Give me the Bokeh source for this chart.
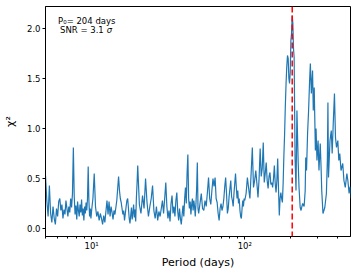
from bokeh.plotting import figure
from bokeh.models import FixedTicker, NumeralTickFormatter, Span, Range1d
from bokeh.core.properties import value
from bokeh.embed import file_html
from bokeh.resources import INLINE

# ---- data (period in days, chi^2) ----
periods_a = [5.0, 5.1, 5.2, 5.3, 5.4, 5.5, 5.6, 5.7, 5.8, 5.9,
             6.0, 6.1, 6.2, 6.3, 6.4, 6.5, 6.6, 6.7, 6.8, 6.9,
             7.0, 7.1, 7.2, 7.3, 7.4, 7.5, 7.6, 7.7, 7.8, 7.9,
             8.0, 8.1, 8.2, 8.3, 8.4, 8.5, 8.6, 8.7, 8.8, 8.9,
             9.0, 9.1, 9.2, 9.3, 9.4, 9.5, 9.6, 9.7, 9.8, 9.9]
values_a = [0.53, 0.28, 0.12, 0.43, 0.15, 0.06, 0.22, 0.10, 0.04, 0.20,
            0.12, 0.27, 0.30, 0.18, 0.24, 0.10, 0.19, 0.14, 0.28, 0.20,
            0.12, 0.22, 0.16, 0.30, 0.21, 0.35, 0.81, 0.32, 0.14, 0.23,
            0.09, 0.27, 0.18, 0.12, 0.24, 0.16, 0.29, 0.13, 0.20, 0.08,
            0.22, 0.15, 0.26, 0.18, 0.30, 0.62, 0.28, 0.12, 0.20, 0.10]

periods_b = [10.0, 10.2, 10.4, 10.6, 10.8, 11.0, 11.2, 11.4, 11.6, 11.8,
             12.0, 12.2, 12.4, 12.6, 12.8, 13.0, 13.2, 13.4, 13.6, 13.8,
             14.0, 14.2, 14.4, 14.6, 14.8, 15.0, 15.2, 15.4, 15.6, 15.8,
             16.0, 16.2, 16.4, 16.6, 16.8, 17.0, 17.2, 17.4, 17.6, 17.8,
             18.0, 18.2, 18.4, 18.6, 18.8, 19.0, 19.2, 19.4, 19.6, 19.8]
values_b = [0.18, 0.30, 0.55, 0.22, 0.12, 0.17, 0.08, 0.15, 0.10, 0.04,
            0.13, 0.06, 0.17, 0.28, 0.14, 0.27, 0.12, 0.22, 0.16, 0.09,
            0.18, 0.14, 0.21, 0.28, 0.40, 0.52, 0.38, 0.30, 0.26, 0.20,
            0.14, 0.18, 0.08, 0.15, 0.22, 0.28, 0.30, 0.20, 0.10, 0.05,
            0.13, 0.21, 0.09, 0.16, 0.24, 0.11, 0.19, 0.07, 0.30, 0.45]

periods_c = [20.0, 20.5, 21.0, 21.5, 22.0, 22.5, 23.0, 23.5, 24.0, 24.5,
             25.0, 25.5, 26.0, 26.5, 27.0, 27.5, 28.0, 28.5, 29.0, 29.5,
             30.0, 30.5, 31.0, 31.5, 32.0, 32.5, 33.0, 33.5, 34.0, 34.5,
             35.0, 35.5, 36.0, 36.5, 37.0, 37.5, 38.0, 38.5, 39.0, 39.5,
             40.0, 40.5, 41.0, 41.5, 42.0, 42.5, 43.0, 43.5, 44.0, 44.5,
             45.0, 45.5, 46.0, 46.5, 47.0, 47.5, 48.0, 48.5, 49.0, 49.5]
values_c = [0.63, 0.24, 0.15, 0.33, 0.20, 0.50, 0.26, 0.12, 0.22, 0.30,
            0.43, 0.18, 0.10, 0.22, 0.08, 0.17, 0.12, 0.20, 0.28, 0.15,
            0.30, 0.46, 0.22, 0.10, 0.18, 0.07, 0.25, 0.33, 0.15, 0.22,
            0.12, 0.28, 0.36, 0.17, 0.08, 0.20, 0.10, 0.04, 0.14, 0.23,
            0.12, 0.30, 0.41, 0.25, 0.55, 0.74, 0.30, 0.20, 0.27, 0.14,
            0.24, 0.30, 0.18, 0.28, 0.22, 0.12, 0.25, 0.40, 0.66, 0.20]

periods_d = [50, 51, 52, 53, 54, 55, 56, 57, 58, 59,
             60, 61, 62, 63, 64, 65, 66, 67, 68, 69,
             70, 71, 72, 73, 74, 75, 76, 77, 78, 79,
             80, 81, 82, 83, 84, 85, 86, 87, 88, 89,
             90, 91, 92, 93, 94, 95, 96, 97, 98, 99]
values_d = [0.15, 0.25, 0.35, 0.20, 0.18, 0.28, 0.22, 0.36, 0.51, 0.30,
            0.24, 0.38, 0.50, 0.42, 0.51, 0.30, 0.26, 0.15, 0.08, 0.20,
            0.25, 0.18, 0.22, 0.30, 0.42, 0.51, 0.35, 0.15, 0.20, 0.32,
            0.40, 0.48, 0.32, 0.28, 0.22, 0.35, 0.45, 0.55, 0.42, 0.30,
            0.38, 0.25, 0.30, 0.18, 0.12, 0.10, 0.20, 0.28, 0.22, 0.30]

periods_e = [100, 102, 104, 106, 108, 110, 112, 114, 116, 118,
             120, 122, 124, 126, 128, 130, 132, 134, 136, 138,
             140, 142, 144, 146, 148, 150, 152, 154, 156, 158,
             160, 162, 164, 166, 168, 170, 172, 174, 176, 178,
             180, 182, 184, 186, 188, 190, 192, 194, 196, 198]
values_e = [0.28, 0.35, 0.51, 0.40, 0.30, 0.55, 0.81, 0.41, 0.48, 0.58,
            0.45, 0.31, 0.50, 0.80, 0.52, 0.60, 0.86, 0.46, 0.55, 0.66,
            0.48, 0.40, 0.52, 0.56, 0.44, 0.46, 0.41, 0.50, 0.63, 0.45,
            0.36, 0.48, 0.70, 0.40, 0.13, 0.30, 0.36, 0.30, 0.26, 0.45,
            0.73, 0.95, 1.23, 1.45, 1.62, 1.73, 1.70, 1.50, 1.45, 1.56]

periods_f = [200, 202, 204, 206, 208, 210, 213, 216, 219, 223, 226,
             230, 233, 236, 239, 244, 248, 250, 253, 257, 261,
             265, 268, 272, 277, 280, 284, 289, 292, 296, 301,
             305, 311, 315, 318, 324, 333, 341, 346, 349, 352,
             360, 367, 372, 378, 385, 391, 397, 405, 411, 417,
             425, 436, 444, 453, 464, 471, 480, 487, 495]
values_f = [1.88, 1.95, 2.13, 2.05, 1.80, 1.71, 0.70, 0.38, 1.18, 0.68, 0.41,
            0.21, 0.18, 0.22, 0.25, 0.22, 0.38, 0.71, 0.58, 0.95, 1.18,
            1.48, 1.65, 1.35, 1.58, 1.18, 1.41, 0.78, 1.00, 0.68, 0.88,
            0.58, 0.85, 0.60, 0.38, 0.15, 0.21, 0.35, 0.68, 1.26, 0.51,
            0.88, 0.98, 0.75, 1.05, 1.35, 0.91, 0.81, 0.88, 0.68, 0.75,
            0.58, 0.65, 0.48, 0.41, 0.55, 0.48, 0.35, 0.42, 0.30]

best_period = 204
line1 = "P\u2080= 204 days"
line2 = "SNR = 3.1"
line2_sym = "\u03c3"

x_major = [10, 100]
x_major_labels = {10: "10\u00b9", 100: "10\u00b2"}
x_minor = [5, 6, 7, 8, 9, 20, 30, 40, 50, 60, 70, 80, 90, 200, 300, 400]
y_ticks = [0.0, 0.5, 1.0, 1.5, 2.0]

period = periods_a + periods_b + periods_c + periods_d + periods_e + periods_f
chi2 = values_a + values_b + values_c + values_d + values_e + values_f

FONT = "DejaVu Sans"

p = figure(width=357, height=272, x_axis_type="log",
           x_range=Range1d(5.0, 490), y_range=Range1d(-0.08, 2.22),
           output_backend="svg", toolbar_location=None, title=None,
           min_border_left=41, min_border_right=7, min_border_top=6,
           min_border_bottom=36, background_fill_color="white",
           border_fill_color="white")

p.outline_line_color = "black"
p.outline_line_width = 1
p.xgrid.visible = False
p.ygrid.visible = False

p.line(period, chi2, line_color="#1f77b4", line_width=1.2)

p.add_layout(Span(location=best_period, dimension="height", line_color="red",
                  line_dash="6 3", line_width=1.5))

p.text(x=[9.3], y=[2.08], text=[line1], text_align="center",
       text_baseline="alphabetic", text_font_size="8.5px",
       text_font=value(FONT), text_color="black")
p.text(x=[12.0], y=[1.99], text=[line2], text_align="right",
       text_baseline="alphabetic", text_font_size="8.5px",
       text_font=value(FONT), text_color="black")
p.text(x=[12.0], y=[1.99], text=[line2_sym], text_align="left", x_offset=3,
       text_baseline="alphabetic", text_font_size="8.5px",
       text_font=value(FONT), text_font_style="italic", text_color="black")

xa = p.xaxis[0]
xa.ticker = FixedTicker(ticks=x_major, minor_ticks=x_minor)
xa.major_label_overrides = x_major_labels
xa.axis_label = "Period (days)"

ya = p.yaxis[0]
ya.ticker = FixedTicker(ticks=y_ticks)
ya.formatter = NumeralTickFormatter(format="0.0")
ya.axis_label = "\u03c7\u00b2"

for ax in (xa, ya):
    ax.axis_line_color = "black"
    ax.major_tick_line_color = "black"
    ax.minor_tick_line_color = "black"
    ax.major_tick_in = 0
    ax.major_tick_out = 3
    ax.minor_tick_in = 0
    ax.minor_tick_out = 2
    ax.major_label_text_font = FONT
    ax.major_label_text_font_size = "8.5px"
    ax.major_label_text_color = "black"
    ax.axis_label_text_font = FONT
    ax.axis_label_text_font_size = "11px"
    ax.axis_label_text_font_style = "normal"
    ax.axis_label_text_color = "black"
xa.major_label_standoff = 1
xa.axis_label_standoff = 2
ya.major_label_standoff = 2
ya.axis_label_standoff = 7
ya.minor_tick_line_color = None

open("out.html", "w").write(file_html(p, INLINE))
